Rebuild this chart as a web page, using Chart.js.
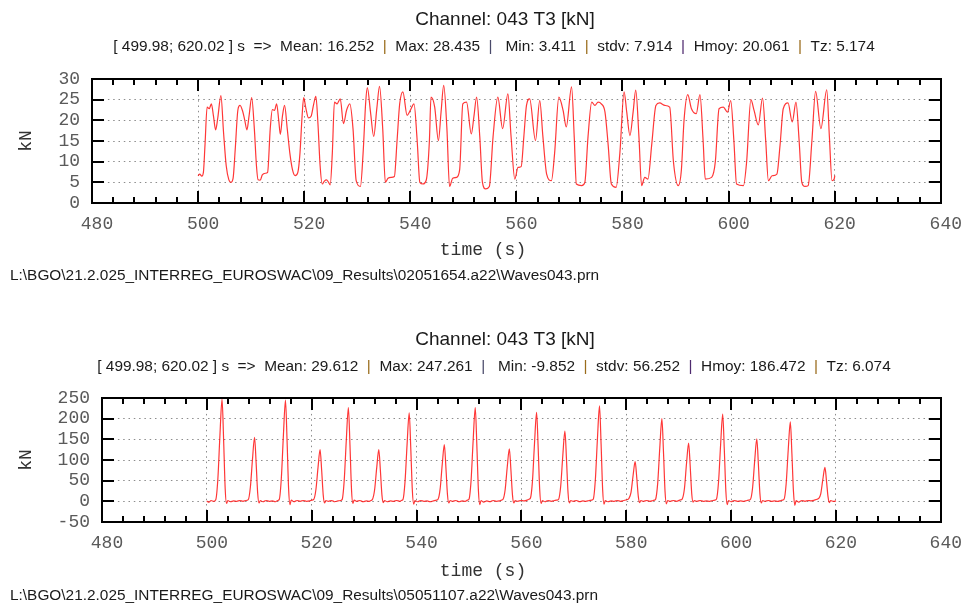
<!DOCTYPE html>
<html>
<head>
<meta charset="utf-8">
<script src="https://cdn.jsdelivr.net/npm/chart.js@4/dist/chart.umd.min.js"></script>
<style>
  html, body { margin: 0; padding: 0; background: #fff; }
  #wrap { position: relative; width: 967px; height: 604px; overflow: hidden; }
  #wrap canvas { position: absolute; left: 0; }
</style>
</head>
<body>
<div id="wrap">
  <canvas id="runA" width="967" height="302" style="top:0"></canvas>
  <canvas id="runB" width="967" height="302" style="top:302px"></canvas>
</div>
<script>
// ---- Run 02051654 : channel 043 T3, time (s) and load (kN) ----
const tA = [499.98,500.3,500.7,501.0,501.3,501.7,502.1,502.5,502.9,503.3,503.7,504.3,504.8,505.3,505.8,506.2,506.6,507.0,507.5,507.9,
  508.4,508.8,509.2,509.6,510.1,510.6,511.0,511.3,511.7,512.1,512.7,513.1,513.6,514.0,514.4,514.8,515.2,515.5,515.9,516.3,
  516.8,517.3,517.8,518.3,518.8,519.2,519.6,519.9,520.3,520.8,521.3,521.8,522.2,522.6,523.0,523.4,523.8,524.2,524.6,524.9,
  525.3,525.7,526.2,526.8,527.4,528.0,528.6,529.2,529.8,530.6,531.1,531.6,531.9,532.5,533.1,533.7,534.2,534.8,535.3,535.8,
  536.4,537.0,537.5,538.0,538.6,539.4,540.0,540.7,541.3,541.8,542.4,543.0,543.6,543.9,544.6,545.3,545.8,546.3,546.9,547.4,
  548.0,548.7,549.3,549.9,550.6,551.5,552.0,552.5,553.1,553.6,554.2,554.9,555.6,556.5,557.4,558.4,559.0,559.7,560.3,560.9,
  561.4,561.9,562.5,563.6,564.4,565.0,565.7,566.6,567.2,568.0,568.8,569.4,570.4,570.9,571.3,572.3,572.9,573.5,574.2,574.8,
  575.4,576.0,576.7,577.3,577.9,578.8,579.5,580.3,580.8,581.4,582.0,582.5,583.1,583.6,584.2,584.8,585.5,586.3,587.0,588.0,
  588.9,589.6,590.5,591.1,591.6,592.3,593.0,593.9,594.6,595.2,595.6,596.8,597.5,598.2,599.0,599.8,600.4,601.0,601.5,602.8,
  603.4,604.2,604.8,605.6,606.4,607.0,607.5,608.2,609.1,609.7,610.3,611.2,612.0,612.7,613.3,613.8,614.4,615.0,615.7,616.4,
  617.4,618.5,619.0,619.5,619.9,620.02];
const fA = [6.6,7.0,6.5,7.4,14.0,23.2,22.8,24.0,21.0,17.7,20.5,26.0,17.0,9.0,5.6,5.0,6.0,13.0,22.5,23.6,
  22.2,20.0,17.7,21.0,25.5,18.0,9.0,5.6,5.5,6.8,7.2,7.4,18.0,22.6,22.4,24.0,20.0,16.6,21.0,23.6,
  18.0,12.0,8.0,6.6,7.4,12.0,21.0,25.5,23.0,20.6,21.0,24.0,25.8,19.0,9.0,4.6,5.3,5.6,5.0,4.4,
  12.0,24.4,24.0,25.2,19.2,22.5,24.0,18.0,5.4,4.0,12.0,24.5,27.9,22.0,16.1,23.0,28.2,18.0,5.0,6.0,
  6.2,6.4,15.0,24.0,26.9,21.2,22.4,24.0,15.0,5.0,4.6,5.5,15.0,25.6,23.2,15.1,22.0,28.435,18.0,4.0,
  6.0,6.2,8.0,24.0,24.4,16.7,21.0,25.6,16.0,5.0,3.411,4.0,16.0,25.6,18.0,26.4,16.0,5.8,8.6,8.8,
  16.0,23.6,25.2,15.1,24.8,16.0,7.0,5.4,12.0,25.6,22.4,18.4,28.1,16.0,4.6,4.2,5.0,16.0,24.4,23.6,
  24.4,24.0,22.0,14.0,4.6,3.8,12.0,26.9,22.0,16.3,22.0,27.3,16.0,4.2,6.2,5.8,14.0,23.6,24.2,23.6,
  23.2,10.0,4.2,8.0,20.0,26.2,22.8,21.6,26.2,15.0,5.8,6.2,10.0,22.8,23.2,22.0,24.8,15.0,4.6,4.2,
  10.0,25.0,22.4,18.9,25.4,15.0,5.4,6.6,7.0,14.0,22.8,24.2,19.6,24.4,15.0,5.0,4.0,4.2,15.0,27.0,
  18.0,27.4,16.0,5.4,5.8,6.6];

// ---- Run 05051107 : channel 043 T3, time (s) and load (kN) ----
const tB = [499.98,500.4,500.8,501.3,
  501.7,502.1,502.5,502.9,503.2,503.5,503.75, 504.0,504.5,505.1,505.7,506.3,506.9,507.4,
  507.9,508.3,508.7,509.1,509.4,509.7,509.95, 510.2,510.7,511.3,511.9,512.5,513.1,513.5,
  513.8,514.2,514.6,515.0,515.3,515.6,515.85, 516.1,516.6,517.2,517.8,518.4,519.0,519.6,520.0,
  520.4,520.8,521.2,521.6,521.9,522.2,522.45, 522.7,523.2,523.8,524.4,525.0,525.5,
  525.8,526.2,526.6,527.0,527.3,527.6,527.85, 528.1,528.6,529.2,529.8,530.4,531.0,531.3,
  531.6,532.0,532.4,532.8,533.1,533.4,533.65, 533.9,534.4,535.0,535.6,536.2,536.8,537.1,
  537.4,537.8,538.2,538.6,538.9,539.2,539.45, 539.7,540.2,540.8,541.4,542.0,542.6,543.2,543.8,
  544.1,544.5,544.9,545.3,545.6,545.9,546.15, 546.4,546.9,547.5,548.1,548.7,549.3,549.7,
  550.0,550.4,550.8,551.2,551.5,551.8,552.05, 552.3,552.8,553.4,554.0,554.6,555.2,555.8,556.2,
  556.5,556.9,557.3,557.7,558.0,558.3,558.55, 558.8,559.3,559.9,560.5,561.1,561.4,
  561.7,562.1,562.5,562.9,563.2,563.5,563.75, 564.0,564.5,565.1,565.7,566.3,566.8,
  567.1,567.5,567.9,568.3,568.6,568.9,569.15, 569.4,569.9,570.5,571.1,571.7,572.3,572.9,573.4,
  573.7,574.1,574.5,574.9,575.2,575.5,575.75, 576.0,576.5,577.1,577.7,578.3,578.9,579.5,580.1,
  580.5,580.9,581.3,581.7,582.0,582.3,582.55, 582.8,583.3,583.9,584.5,585.1,585.4,
  585.6,586.0,586.4,586.8,587.1,587.4,587.65, 587.9,588.4,589.0,589.6,590.2,590.5,
  590.7,591.1,591.5,591.9,592.2,592.5,592.75, 593.0,593.5,594.1,594.7,595.3,595.9,596.5,596.9,
  597.2,597.6,598.0,598.4,598.7,599.0,599.25, 599.5,600.0,600.6,601.2,601.8,602.4,603.0,603.4,
  603.7,604.1,604.5,604.9,605.2,605.5,605.75, 606.0,606.5,607.1,607.7,608.3,608.9,609.5,609.8,
  610.1,610.5,610.9,611.3,611.6,611.9,612.15, 612.4,612.9,613.5,614.1,614.7,615.3,615.9,616.4,
  616.7,617.1,617.5,617.9,618.2,618.5,618.75, 619.0,619.5,620.02];
const fB = [1,-2,2,0,
  4,54,161,247.261,148,30,-5, 2,-1,1,0,2,0,2,
  4,34,101,155,93,19,-4, 2,-1,2,0,1,-1,2,
  4,54,159,245,147,29,-8, 3,-1,2,0,2,0,1,3,
  5,28,81,125,75,15,-4, 2,0,2,-1,1,2,
  4,50,148,227,136,27,-5, 3,0,2,-1,1,0,2,
  5,28,81,125,75,15,-3, 2,-1,1,0,2,0,2,
  4,47,139,214,128,26,-7, 2,-1,2,0,1,-1,1,3,
  5,30,89,137,82,16,-4, 2,0,2,-1,1,0,3,
  5,50,148,227,136,27,-8, 2,-2,1,-1,2,0,1,3,
  5,28,83,127,76,15,-4, 2,0,2,1,3,5,
  7,47,140,215,129,26,-5, 2,-1,2,0,2,3,
  5,37,111,170,102,20,-4, 2,0,2,-1,1,0,2,3,
  5,51,150,231,139,28,-7, 2,-1,1,0,2,0,2,4,
  7,21,62,96,58,12,-3, 2,0,2,0,2,3,
  5,44,130,200,120,24,-6, 2,0,2,0,3,4,
  6,31,92,141,85,17,-2, 2,0,2,0,1,0,2,3,
  5,46,137,211,127,25,-8, 2,-1,2,0,1,0,2,3,
  5,33,98,151,91,18,-4, 2,0,2,0,1,0,2,3,
  5,42,125,192,115,23,-9.852, 2,-2,2,0,2,1,3,5,
  7,18,53,82,49,10,-3, 2,0,1];

// Axis ticks and header texts
const timeRange = [480, 640];
const timeStep = 20;
const timeMinorStep = 4;
const loadRangeA = [0, 30];
const loadStepA = 5;
const loadRangeB = [-50, 250];
const loadStepB = 50;
const statNames = ['Mean', 'Max', 'Min', 'stdv', 'Hmoy', 'Tz'];
const statsA = ['16.252', '28.435', '3.411', '7.914', '20.061', '5.174'];
const statsB = ['29.612', '247.261', '-9.852', '56.252', '186.472', '6.074'];
const windowText = '[ 499.98; 620.02 ] s  =>  ';
const channelTitle = 'Channel: 043 T3 [kN]';
const fileA = 'L:\\BGO\\21.2.025_INTERREG_EUROSWAC\\09_Results\\02051654.a22\\Waves043.prn';
const fileB = 'L:\\BGO\\21.2.025_INTERREG_EUROSWAC\\09_Results\\05051107.a22\\Waves043.prn';

const MONO = '"Courier New", "Liberation Mono", monospace';
const SANS = 'Arial, "Liberation Sans", sans-serif';
const sepColors = ['#9a6c1c', '#4a4a6a', '#9a6c1c', '#4e2a6e', '#9a6c1c'];

// Frame, inward ticks and the texts around each plot
const framePlugin = {
  id: 'frame',
  afterDraw(chart, args, o) {
    const { ctx, chartArea: a, scales: { x, y } } = chart;
    ctx.save();
    ctx.strokeStyle = '#000';
    ctx.lineWidth = 2;
    ctx.lineCap = 'butt';
    ctx.beginPath();
    const major = 12, minor = 6;
    x.ticks.forEach(tk => {
      const px = Math.round(x.getPixelForValue(tk.value));
      ctx.moveTo(px, a.bottom); ctx.lineTo(px, a.bottom - major);
      ctx.moveTo(px, a.top); ctx.lineTo(px, a.top + major);
    });
    for (let v = x.min + timeMinorStep; v < x.max; v += timeMinorStep) {
      if (v % timeStep === 0) continue;
      const px = Math.round(x.getPixelForValue(v));
      ctx.moveTo(px, a.bottom); ctx.lineTo(px, a.bottom - minor);
      ctx.moveTo(px, a.top); ctx.lineTo(px, a.top + minor);
    }
    y.ticks.forEach(tk => {
      const py = Math.round(y.getPixelForValue(tk.value));
      ctx.moveTo(a.left, py); ctx.lineTo(a.left + major, py);
      ctx.moveTo(a.right, py); ctx.lineTo(a.right - major, py);
    });
    ctx.stroke();
    ctx.strokeRect(Math.round(a.left), Math.round(a.top), Math.round(a.right) - Math.round(a.left), Math.round(a.bottom) - Math.round(a.top));

    // title
    ctx.fillStyle = '#1a1a1a';
    ctx.textBaseline = 'middle';
    ctx.textAlign = 'center';
    ctx.font = '19px ' + SANS;
    ctx.fillText(channelTitle, o.titleX, o.titleY);

    // statistics line
    ctx.font = '15.4px ' + SANS;
    const parts = [{ s: windowText + statNames[0] + ': ' + o.stats[0], c: '#1a1a1a' }];
    for (let i = 1; i < statNames.length; i++) {
      parts.push({ s: '  |  ', c: sepColors[i - 1] });
      parts.push({ s: (i === 2 ? ' ' : '') + statNames[i] + ': ' + o.stats[i], c: '#1a1a1a' });
    }
    const total = parts.reduce((w, p) => w + ctx.measureText(p.s).width, 0);
    let cx = o.subX - total / 2;
    ctx.textAlign = 'left';
    parts.forEach(p => {
      ctx.fillStyle = p.c;
      ctx.fillText(p.s, cx, o.subY);
      cx += ctx.measureText(p.s).width;
    });

    // file path
    ctx.fillStyle = '#1a1a1a';
    ctx.font = '15.4px ' + SANS;
    ctx.fillText(o.file, 10, o.fileY);

    // axis titles
    ctx.fillStyle = '#333';
    ctx.font = '18px ' + MONO;
    ctx.textAlign = 'center';
    ctx.fillText('time (s)', o.timeX, o.timeY);
    ctx.save();
    ctx.translate(o.unitX, (a.top + a.bottom) / 2);
    ctx.rotate(-Math.PI / 2);
    ctx.fillText('kN', 0, 0);
    ctx.restore();
    ctx.restore();
  }
};

function buildChart(id, times, loads, cfg) {
  const pts = times.map((t, i) => ({ x: t, y: loads[i] }));
  const H = 302;
  const gridStyle = { color: '#8c8c8c', lineWidth: 1, drawTicks: false, borderDash: [1.5, 3.8] };
  const borderStyle = { display: false, dash: [1.5, 3.8] };
  const tickFont = { family: MONO, size: 18 };
  return new Chart(document.getElementById(id), {
    type: 'line',
    data: {
      datasets: [{
        data: pts,
        borderColor: 'rgba(255,20,20,0.85)',
        borderWidth: 1.2,
        pointRadius: 0,
        cubicInterpolationMode: 'monotone',
        fill: false
      }]
    },
    options: {
      responsive: false,
      animation: false,
      devicePixelRatio: 1,
      parsing: false,
      layout: { padding: { top: cfg.top, right: 967 - cfg.right, left: 0, bottom: 0 } },
      plugins: {
        legend: { display: false },
        tooltip: { enabled: false },
        title: { display: false },
        frame: cfg
      },
      scales: {
        x: {
          type: 'linear',
          min: timeRange[0],
          max: timeRange[1],
          afterFit: s => { s.height = H - cfg.bottom; },
          ticks: { stepSize: timeStep, font: tickFont, color: '#5a5a5a', padding: 10, labelOffset: 5, maxRotation: 0, autoSkip: false },
          grid: gridStyle,
          border: borderStyle
        },
        y: {
          type: 'linear',
          min: cfg.yRange[0],
          max: cfg.yRange[1],
          afterFit: s => { s.width = cfg.left; },
          ticks: { stepSize: cfg.yStep, font: tickFont, color: '#5a5a5a', padding: 12, autoSkip: false },
          grid: gridStyle,
          border: borderStyle
        }
      }
    },
    plugins: [framePlugin]
  });
}

buildChart('runA', tA, fA, {
  left: 92, right: 943, top: 79, bottom: 203,
  yRange: loadRangeA, yStep: loadStepA,
  titleX: 505, titleY: 20, subX: 494, subY: 47,
  stats: statsA, file: fileA, fileY: 276,
  timeX: 483, timeY: 250, unitX: 26
});
buildChart('runB', tB, fB, {
  left: 102, right: 942, top: 96, bottom: 220,
  yRange: loadRangeB, yStep: loadStepB,
  titleX: 505, titleY: 38, subX: 494, subY: 65,
  stats: statsB, file: fileB, fileY: 294,
  timeX: 483, timeY: 269, unitX: 26
});
</script>
</body>
</html>
